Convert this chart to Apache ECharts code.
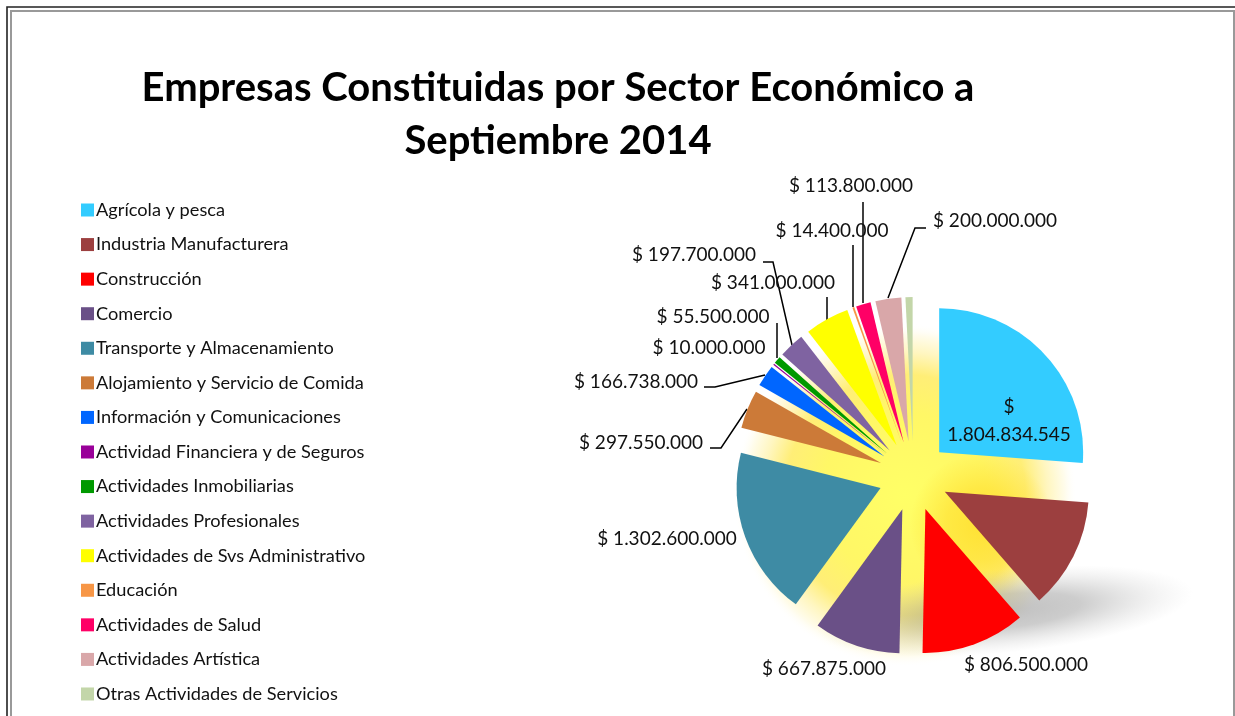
<!DOCTYPE html>
<html>
<head>
<meta charset="utf-8">
<style>html,body{margin:0;padding:0;background:#fff}#c{width:1235px;height:716px}</style>
<script src="https://cdn.jsdelivr.net/npm/echarts@6/dist/echarts.min.js"></script>
</head>
<body>
<div id="c"></div>
<script>
const titleText = 'Empresas Constituidas por Sector Económico a\nSeptiembre 2014';
const categories = ['Agrícola y pesca','Industria Manufacturera','Construcción','Comercio','Transporte y Almacenamiento','Alojamiento y Servicio de Comida','Información y Comunicaciones','Actividad Financiera y de Seguros','Actividades Inmobiliarias','Actividades Profesionales','Actividades de Svs Administrativo','Educación','Actividades de Salud','Actividades Artística','Otras Actividades de Servicios'];
const values = [1804834545,855000000,806500000,667875000,1302600000,297550000,166738000,10000000,55500000,197700000,341000000,14400000,113800000,200000000,55000000];
const colors = ['#33CCFF','#9C3F3F','#FF0000','#6A5087','#3E8BA4','#CC7A38','#0066FF','#990099','#009900','#7F63A1','#FFFF00','#F79646','#FF0066','#D9A7A9','#C3D6A9'];

// label layout table (centre of text, optional leader line)
const labelLayouts = [
  {x:1009,y:421},
  null,
  {x:1026,y:665},
  {x:824,y:669},
  {x:667,y:539},
  {x:641,y:443,line:[[747,409],[721,448],[710,448]]},
  {x:636,y:382,line:[[765,375],[715,387],[704,387]]},
  {x:709,y:348},
  {x:713,y:317,line:[[777,358],[777,340],[777,323]]},
  {x:694,y:255,line:[[792,345],[773,262],[763,262]]},
  {x:773,y:283,line:[[827,320],[827,308],[827,297]]},
  {x:832,y:231,line:[[853,307],[853,270],[853,245]]},
  {x:851,y:186,line:[[863,303],[863,250],[863,202]]},
  {x:995,y:221,line:[[888,298],[915,228],[926,228]]},
  null
];
const FONT = 'Lato, "Open Sans", sans-serif';
const fmt = v => String(v).replace(/\B(?=(\d{3})+(?!\d))/g,'.');

const chart = echarts.init(document.getElementById('c'),null,{renderer:'canvas'});
chart.setOption({
  animation:false,
  backgroundColor:'#ffffff',
  title:{text:titleText,left:558,top:62,padding:0,textAlign:'center',
    textStyle:{fontFamily:FONT,fontSize:40,fontWeight:'bold',color:'#000',lineHeight:53}},
  legend:{orient:'vertical',left:81,top:201,padding:0,height:560,itemWidth:13,itemHeight:13,itemGap:16.57,icon:'rect',
    selectedMode:false,data:categories,
    textStyle:{fontFamily:FONT,fontSize:18.2,color:'#111',lineHeight:17,padding:[0,0,0,-3]}},
  graphic:[
    {type:'rect',z:-10,silent:true,shape:{x:7,y:7,width:1300,height:800},style:{fill:null,stroke:'#222',lineWidth:1.6}},
    {type:'rect',z:-10,silent:true,shape:{x:11,y:11,width:1223,height:800},style:{fill:null,stroke:'#999',lineWidth:2}},
    {type:'circle',z:-9,silent:true,shape:{cx:905,cy:495,r:172},style:{fill:new echarts.graphic.RadialGradient(0.5,0.5,0.5,[
      {offset:0,color:'#FFFF66'},{offset:0.48,color:'#FFF766'},{offset:0.7,color:'#FFEE77'},{offset:0.83,color:'#FFF6C0'},{offset:0.93,color:'#FFFCEB'},{offset:1,color:'rgba(255,255,255,0)'}])}},
    {type:'circle',z:-8,silent:true,shape:{cx:982,cy:525,r:72},style:{fill:new echarts.graphic.RadialGradient(0.5,0.5,0.5,[
      {offset:0,color:'rgba(255,220,40,0.8)'},{offset:0.5,color:'rgba(255,220,40,0.55)'},{offset:1,color:'rgba(255,220,40,0)'}])}},
    {type:'circle',z:-7,silent:true,x:1005,y:611,scaleX:4.5,rotation:0.1,shape:{cx:0,cy:0,r:42},style:{fill:new echarts.graphic.RadialGradient(0.5,0.5,0.5,[
      {offset:0,color:'rgba(150,150,150,0.6)'},{offset:0.4,color:'rgba(150,150,150,0.48)'},{offset:0.75,color:'rgba(170,170,170,0.18)'},{offset:1,color:'rgba(190,190,190,0)'}])}}
  ],
  series:[{
    type:'pie',
    center:[913.5,476],
    radius:[0,144],
    startAngle:90,
    clockwise:true,
    selectedMode:'multiple',
    selectedOffset:35,
    avoidLabelOverlap:false,
    emphasis:{disabled:true},
    label:{show:false},
    labelLine:{show:false},
    data:categories.map((name,i)=>({name,value:values[i],selected:true,itemStyle:{color:colors[i]}}))
  },{
    // carries the value labels and leader lines at their own places
    type:'pie',
    center:[913.5,476],
    radius:[0,144],
    startAngle:90,
    clockwise:true,
    silent:true,
    avoidLabelOverlap:false,
    emphasis:{disabled:true},
    itemStyle:{color:'rgba(0,0,0,0)'},
    data:categories.map((name,i)=>({
      name,value:values[i],
      label:{show:labelLayouts[i]!==null},
      labelLine:{show:!!(labelLayouts[i]&&labelLayouts[i].line)}
    })),
    label:{position:'outside',fontFamily:FONT,fontSize:19,color:'#111',lineHeight:28,
      formatter:p=>(p.dataIndex===0?'$\n':'$ ')+fmt(p.value)},
    labelLine:{lineStyle:{color:'#000',width:1.5}},
    labelLayout:p=>{
      const L=labelLayouts[p.dataIndex];
      if(!L) return {};
      const o={x:L.x,y:L.y,align:'center',verticalAlign:'middle'};
      if(L.line) o.labelLinePoints=L.line;
      return o;
    }
  }]
});
</script>
</body>
</html>
